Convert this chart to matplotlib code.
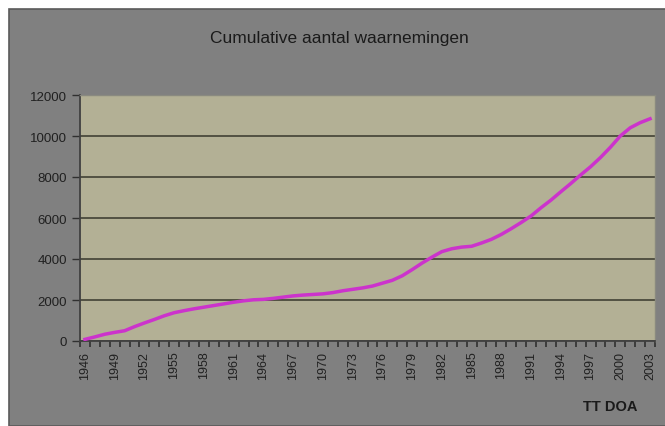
import numpy as np
import matplotlib.pyplot as plt
from matplotlib.patches import Rectangle

plt.rcParams['font.family'] = ['Liberation Sans', 'DejaVu Sans']

# Jaren en cumulatief aantal waarnemingen
jaren = list(range(1946, 2004))
cumulatief = [80, 200, 330, 420, 500, 700, 880, 1050, 1230, 1380,
              1480, 1570, 1650, 1730, 1810, 1890, 1960, 2010, 2030, 2080,
              2140, 2200, 2240, 2270, 2300, 2360, 2450, 2520, 2590, 2680,
              2820, 2960, 3180, 3480, 3800, 4090, 4360, 4500, 4580, 4620,
              4780, 4960, 5200, 5480, 5780, 6100, 6500, 6870, 7280, 7680,
              8100, 8500, 8950, 9450, 10000, 10400, 10650, 10840]

titel = "Cumulative aantal waarnemingen"
bron = "TT DOA"

fig = plt.figure(figsize=(6.65, 4.27), dpi=100)
fig.patch.set_facecolor("white")

# grijze achtergrond van het grafiekvak
fig.patches.append(Rectangle((9 / 665, 0), 1, 1 - 10 / 427, transform=fig.transFigure,
                             facecolor="#808080", edgecolor="#5a5a5a", linewidth=1.2,
                             zorder=-1))

ax = fig.add_axes([80 / 665, 1 - 342 / 427, 575 / 665, 246 / 427])
ax.set_facecolor("#b3b095")

x = np.arange(len(jaren))
ax.plot(x, cumulatief, color="#cc33cc", linewidth=2.5, zorder=3)

ax.set_xlim(-0.5, len(jaren) - 0.5)
ax.set_ylim(0, 12000)
ax.set_yticks(range(0, 12001, 2000))
ax.yaxis.grid(True, color="#4a4a3c", linewidth=1.3)
ax.set_axisbelow(True)

# labels elke 3 jaar, streepjes tussen de categorieen
ax.set_xticks(x[::3])
ax.set_xticklabels([str(j) for j in jaren[::3]], rotation=90)
ax.set_xticks(np.arange(-0.5, len(jaren)), minor=True)
ax.tick_params(axis="x", which="major", length=0, pad=7, labelsize=9, colors="#202020")
ax.tick_params(axis="x", which="minor", length=4, width=1.2, color="#303030")
ax.tick_params(axis="y", length=6, width=1, color="#303030", labelsize=9.5,
               labelcolor="#202020")

for side in ["left", "bottom"]:
    ax.spines[side].set_color("#404040")
    ax.spines[side].set_linewidth(1.3)
for side in ["top", "right"]:
    ax.spines[side].set_color("#8a8a80")
    ax.spines[side].set_linewidth(1)

fig.text(339 / 665, 1 - 38 / 427, titel, ha="center", va="center", fontsize=12.5,
         color="#1a1a1a")
fig.text(610 / 665, 1 - 407 / 427, bron, ha="center", va="center", fontsize=10.5,
         fontweight="bold", color="#1a1a1a")

fig.savefig("out.png", dpi=100)
